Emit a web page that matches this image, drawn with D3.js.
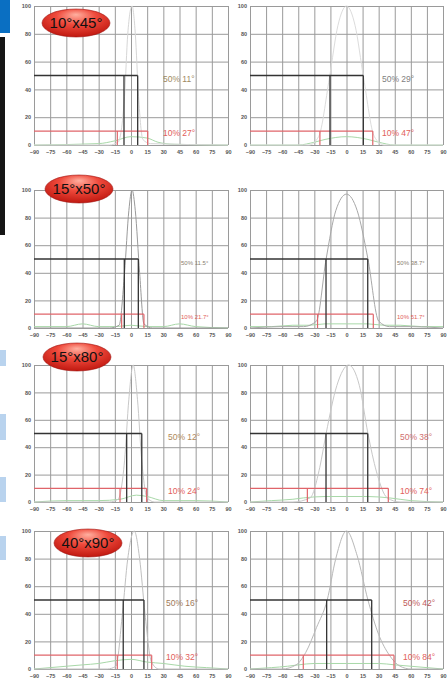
<!DOCTYPE html>
<html>
<head>
<meta charset="utf-8">
<script src="https://cdn.jsdelivr.net/npm/d3@7"></script>
<style>
  body { margin: 0; background: #fff; }
  svg { display: block; font-family: "Liberation Sans", Arial, sans-serif; }
</style>
</head>
<body>
<div id="chart"></div>
<script>
// axis ticks
var xTicks = [-90, -75, -60, -45, -30, -15, 0, 15, 30, 45, 60, 75, 90];
var yTicks = [0, 20, 40, 60, 80, 100];

// one beam label per row
var beamLabels = ["10°x45°", "15°x50°", "15°x80°", "40°x90°"];

// intensity curves [angle, %] per panel (row, left/right)
var curve1L = [[-90,0],[-20,0],[-12,2],[-6,35],[-3,80],[1,100],[4,80],[7,35],[11,4],[18,1],[90,0]];
var curve1R = [[-90,0],[-35,0],[-26,6],[-16,48],[-8,86],[0,100],[8,86],[16,48],[26,6],[35,0],[90,0]];
var curve2L = [[-90,0],[-20,0],[-11,2],[-6,40],[-2,85],[1,100],[4,85],[8,40],[12,3],[20,0],[90,0]];
var curve2R = [[-90,0],[-60,1],[-40,1],[-28,5],[-19,50],[-10,85],[0,97],[10,85],[20,50],[30,5],[40,1],[60,1],[90,0]];
var curve3L = [[-90,0],[-20,0],[-12,2],[-6,30],[-2,75],[2,100],[6,75],[10,30],[15,3],[22,0],[90,0]];
var curve3R = [[-90,0],[-50,0],[-34,3],[-25,25],[-19,50],[-9,85],[2,100],[12,85],[20,50],[28,22],[38,3],[50,0],[90,0]];
var curve4L = [[-90,0],[-22,0],[-14,2],[-8,40],[-3,80],[3,100],[8,80],[13,40],[19,5],[26,0],[90,0]];
var curve4R = [[-90,0],[-60,0],[-47,3],[-38,12],[-28,30],[-18,50],[-10,80],[0,100],[10,82],[20,50],[30,25],[40,10],[50,2],[60,0],[90,0]];

// secondary (green) curves near the baseline
var green1L = [[-90,0],[-30,1],[-15,3],[0,6],[15,5],[25,2],[40,0.5],[90,0]];
var green1R = [[-90,0],[-45,0],[-30,2],[-20,4],[0,6],[20,4],[30,2],[45,0],[90,0]];
var green2L = [[-90,1],[-60,1],[-45,3],[-30,1],[-15,1],[0,2],[15,1],[30,1],[45,3],[60,1],[90,0]];
var green2R = [[-90,1],[-70,1],[-50,2],[-35,2],[-20,3],[0,3],[20,3],[35,2],[50,2],[70,1],[90,1]];
var green3L = [[-90,0],[-60,1],[-30,1],[-10,2],[5,5],[15,4],[30,1],[60,1],[90,0]];
var green3R = [[-90,0],[-70,1],[-50,2],[-40,3],[-20,4],[0,4],[20,4],[40,3],[60,1],[90,0]];
var green4L = [[-90,0],[-60,2],[-45,3],[-30,4],[-15,6],[0,7],[15,5],[30,4],[50,2],[70,1],[90,0]];
var green4R = [[-90,0],[-70,1],[-55,2],[-45,3],[-30,4],[0,4],[30,4],[45,3],[60,2],[90,0]];

// beam edges [left, right] at 50% and 10%
var edges50 = [[-6.5,6.2],[-15.4,15.7],[-6.2,6.8],[-19.1,19.8],[-4,10],[-19.1,19.8],[-7.2,12],[-18.5,23.5]];
var edges10 = [[-12.7,15.5],[-24.8,24.5],[-8.7,12],[-27,25],[-10.2,14.5],[-36.5,39],[-12.7,19.2],[-40.3,44.3]];

// annotation texts
var text50 = ["50% 11°", "50% 29°", "50% 11.5°", "50% 38.7°", "50% 12°", "50% 38°", "50% 16°", "50% 42°"];
var text10 = ["10% 27°", "10% 47°", "10% 21.7°", "10% 51.7°", "10% 24°", "10% 74°", "10% 32°", "10% 84°"];

var curves = [curve1L, curve1R, curve2L, curve2R, curve3L, curve3R, curve4L, curve4R];
var greens = [green1L, green1R, green2L, green2R, green3L, green3R, green4L, green4R];

// layout
var cols = [[34, 228], [250, 443]];
var rows = [[6, 145], [190, 328], [365, 502], [531, 669]];
var textX = [163, 382, 181, 397, 168, 400, 166, 403];
var textSize = [8.5, 8.5, 6, 6, 8.5, 8.5, 8.5, 8.5];
var color50 = ["#a08a62", "#7f7f7f", "#8a8070", "#8a8070", "#b08a5a", "#d07070", "#a07a5a", "#c05a5a"];
var curveColor = ["#d6d6d6", "#dcdcdc", "#9a9a9a", "#a8a8a8", "#c8c8c8", "#c8c8c8", "#c0c0c0", "#b8b8b8"];
var ellipses = [[76, 23], [79, 189], [77, 357], [88, 543]];

var svg = d3.select("#chart").append("svg")
  .attr("width", 448)
  .attr("height", 682);

// gradient for the red labels
var defs = svg.append("defs");
var grad = defs.append("radialGradient")
  .attr("id", "redball")
  .attr("cx", "50%").attr("cy", "35%").attr("r", "65%")
  .attr("fx", "50%").attr("fy", "20%");
grad.append("stop").attr("offset", "0%").attr("stop-color", "#ffb0a0");
grad.append("stop").attr("offset", "45%").attr("stop-color", "#ef4a3c");
grad.append("stop").attr("offset", "100%").attr("stop-color", "#c01810");

// side markers
svg.append("rect").attr("x", 0).attr("y", 0).attr("width", 10).attr("height", 33).attr("fill", "#0a6fc2");
svg.append("rect").attr("x", 0).attr("y", 37).attr("width", 5).attr("height", 198).attr("fill", "#151515");
[[350, 366], [414, 440], [477, 502], [536, 560]].forEach(function(b) {
  svg.append("rect").attr("x", 0).attr("y", b[0]).attr("width", 6).attr("height", b[1] - b[0]).attr("fill", "#b9d3ee");
});

function drawPanel(i) {
  var r = Math.floor(i / 2), c = i % 2;
  var x = d3.scaleLinear().domain([-90, 90]).range(cols[c]);
  var y = d3.scaleLinear().domain([0, 100]).range([rows[r][1], rows[r][0]]);
  var g = svg.append("g");
  var h = rows[r][1] - rows[r][0];
  var w = cols[c][1] - cols[c][0];

  // grid + labels via axes
  var gx = g.append("g")
    .attr("transform", "translate(0," + rows[r][1] + ")")
    .call(d3.axisBottom(x).tickValues(xTicks).tickSize(-h).tickPadding(5).tickFormat(d3.format("d")));
  var gy = g.append("g")
    .attr("transform", "translate(" + cols[c][0] + ",0)")
    .call(d3.axisLeft(y).tickValues(yTicks).tickSize(-w).tickPadding(3));
  [gx, gy].forEach(function(a) {
    a.select(".domain").remove();
    a.selectAll("line").attr("stroke", "#9a9a9a").attr("stroke-width", 1);
    a.selectAll("text").attr("font-size", 5.5).attr("fill", "#555").attr("font-weight", "bold");
  });

  var line = d3.line()
    .x(function(d) { return x(d[0]); })
    .y(function(d) { return y(d[1]); })
    .curve(d3.curveMonotoneX);

  g.append("path").datum(greens[i]).attr("d", line)
    .attr("fill", "none").attr("stroke", "#a8d8a8").attr("stroke-width", 1);
  g.append("path").datum(curves[i]).attr("d", line)
    .attr("fill", "none").attr("stroke", curveColor[i]).attr("stroke-width", 1);

  // 10% marker
  var e10 = edges10[i];
  var red = g.append("g").attr("stroke", "#e0646a").attr("stroke-width", 1.2).attr("fill", "none");
  red.append("path").attr("d", "M" + x(-90) + "," + y(10) + "H" + x(e10[1]));
  e10.forEach(function(v) {
    red.append("line").attr("x1", x(v)).attr("x2", x(v)).attr("y1", y(10)).attr("y2", y(0));
  });

  // 50% marker
  var e50 = edges50[i];
  var blk = g.append("g").attr("stroke", "#333").attr("stroke-width", 1.3).attr("fill", "none");
  blk.append("path").attr("d", "M" + x(-90) + "," + y(50) + "H" + x(e50[1]));
  e50.forEach(function(v) {
    blk.append("line").attr("x1", x(v)).attr("x2", x(v)).attr("y1", y(50)).attr("y2", y(0));
  });

  g.append("text").attr("x", textX[i]).attr("y", y(50) + 4)
    .attr("dominant-baseline", "middle").attr("font-size", textSize[i])
    .attr("fill", color50[i]).text(text50[i]);
  g.append("text").attr("x", textX[i]).attr("y", y(10) + 3)
    .attr("dominant-baseline", "middle").attr("font-size", textSize[i])
    .attr("fill", "#e2605a").text(text10[i]);
}

for (var i = 0; i < 8; i++) drawPanel(i);

// red beam labels
beamLabels.forEach(function(t, k) {
  var e = ellipses[k];
  svg.append("ellipse").attr("cx", e[0]).attr("cy", e[1]).attr("rx", 34).attr("ry", 14)
    .attr("fill", "url(#redball)").attr("stroke", "#a01410").attr("stroke-width", 0.6);
  svg.append("text").attr("x", e[0]).attr("y", e[1] + 1)
    .attr("text-anchor", "middle").attr("dominant-baseline", "middle")
    .attr("font-size", 15).attr("fill", "#111").text(t);
});
</script>
</body>
</html>
